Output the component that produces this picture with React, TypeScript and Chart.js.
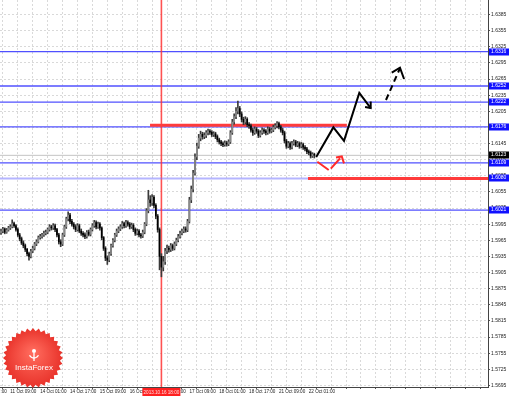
import React, { useEffect, useRef } from 'react';
import { Chart, registerables } from 'chart.js';
Chart.register(...registerables);

// ---- hourly candles (H1) ----
const opens = [
1.5979,1.5982,1.5986,1.5980,1.5984,1.5988,1.5990,1.5996,1.5992,1.5985,
1.5975,1.5968,1.5960,1.5955,1.5948,1.5940,1.5935,1.5945,1.5950,1.5958,
1.5962,1.5970,1.5972,1.5975,1.5978,1.5980,1.5985,1.5990,1.5988,1.5992,
1.5985,1.5975,1.5962,1.5958,1.5975,1.5990,1.6005,1.6012,1.6000,1.5995,
1.5990,1.5985,1.5992,1.5982,1.5978,1.5975,1.5972,1.5980,1.5976,1.5985,
1.5992,1.5998,1.5990,1.5995,1.5988,1.5970,1.5950,1.5932,1.5928,1.5940,
1.5955,1.5965,1.5975,1.5982,1.5986,1.5990,1.5996,1.5992,1.5998,1.5995,
1.5990,1.5993,1.5985,1.5978,1.5982,1.5975,1.5973,1.5980,1.5995,1.6020,
1.6040,1.6035,1.6045,1.6030,1.6010,1.5985,1.5935,1.5915,1.5925,1.5945,
1.5950,1.5948,1.5955,1.5950,1.5958,1.5965,1.5972,1.5978,1.5982,1.5986,
1.5984,1.6000,1.6040,1.6060,1.6090,1.6120,1.6140,1.6155,1.6162,1.6158,
1.6160,1.6165,1.6168,1.6166,1.6162,1.6163,1.6158,1.6152,1.6148,1.6145,
1.6143,1.6146,1.6144,1.6148,1.6165,1.6185,1.6195,1.6205,1.6210,1.6200,
1.6190,1.6185,1.6190,1.6180,1.6178,1.6170,1.6165,1.6172,1.6168,1.6160,
1.6165,1.6170,1.6168,1.6165,1.6172,1.6168,1.6170,1.6175,1.6178,1.6182,
1.6176,1.6170,1.6165,1.6150,1.6140,1.6145,1.6138,1.6145,1.6148,1.6142,
1.6145,1.6140,1.6143,1.6138,1.6135,1.6130,1.6128,1.6122,1.6125
];
const highs = [
1.5986,1.5989,1.5988,1.5987,1.5991,1.5994,1.6003,1.5999,1.5994,1.5988,
1.5978,1.5971,1.5964,1.5958,1.5950,1.5943,1.5948,1.5954,1.5961,1.5966,
1.5973,1.5976,1.5978,1.5982,1.5984,1.5988,1.5994,1.5993,1.5996,1.5995,
1.5987,1.5978,1.5966,1.5978,1.5993,1.6008,1.6018,1.6015,1.6004,1.5998,
1.5994,1.5996,1.5995,1.5986,1.5981,1.5979,1.5983,1.5984,1.5988,1.5996,
1.6002,1.6001,1.5999,1.5998,1.5990,1.5972,1.5953,1.5936,1.5943,1.5958,
1.5968,1.5978,1.5986,1.5990,1.5994,1.6000,1.5999,1.6002,1.6001,1.5998,
1.5997,1.5996,1.5988,1.5986,1.5985,1.5978,1.5984,1.5998,1.6024,1.6058,
1.6048,1.6050,1.6048,1.6033,1.6013,1.5988,1.5940,1.5935,1.5950,1.5956,
1.5954,1.5959,1.5958,1.5962,1.5969,1.5976,1.5982,1.5986,1.5990,1.5990,
1.6004,1.6045,1.6066,1.6095,1.6126,1.6146,1.6162,1.6168,1.6166,1.6165,
1.6169,1.6172,1.6171,1.6169,1.6167,1.6166,1.6161,1.6155,1.6151,1.6148,
1.6150,1.6149,1.6152,1.6169,1.6190,1.6200,1.6212,1.6224,1.6214,1.6204,
1.6194,1.6195,1.6193,1.6184,1.6181,1.6174,1.6176,1.6175,1.6171,1.6169,
1.6174,1.6173,1.6171,1.6176,1.6175,1.6174,1.6179,1.6182,1.6186,1.6185,
1.6179,1.6174,1.6168,1.6153,1.6149,1.6148,1.6149,1.6152,1.6151,1.6149,
1.6148,1.6147,1.6146,1.6141,1.6138,1.6133,1.6131,1.6128,1.6127
];
const lows = [
1.5976,1.5979,1.5977,1.5978,1.5982,1.5985,1.5988,1.5989,1.5982,1.5972,
1.5964,1.5957,1.5951,1.5944,1.5936,1.5928,1.5932,1.5942,1.5947,1.5955,
1.5960,1.5967,1.5969,1.5972,1.5975,1.5977,1.5982,1.5984,1.5985,1.5981,
1.5971,1.5958,1.5953,1.5955,1.5972,1.5987,1.6001,1.5996,1.5991,1.5986,
1.5981,1.5982,1.5979,1.5974,1.5971,1.5968,1.5969,1.5973,1.5973,1.5982,
1.5989,1.5986,1.5987,1.5984,1.5966,1.5946,1.5927,1.5920,1.5925,1.5937,
1.5952,1.5962,1.5972,1.5979,1.5983,1.5987,1.5988,1.5989,1.5991,1.5986,
1.5987,1.5981,1.5974,1.5975,1.5971,1.5969,1.5970,1.5977,1.5992,1.6016,
1.6028,1.6030,1.6025,1.6005,1.5980,1.5910,1.5897,1.5908,1.5920,1.5940,
1.5943,1.5944,1.5946,1.5947,1.5955,1.5962,1.5969,1.5975,1.5979,1.5980,
1.5981,1.5997,1.6035,1.6055,1.6086,1.6115,1.6136,1.6150,1.6153,1.6154,
1.6156,1.6161,1.6162,1.6158,1.6158,1.6154,1.6148,1.6144,1.6141,1.6139,
1.6140,1.6140,1.6141,1.6145,1.6162,1.6181,1.6191,1.6200,1.6195,1.6185,
1.6180,1.6181,1.6176,1.6173,1.6166,1.6160,1.6162,1.6164,1.6156,1.6157,
1.6162,1.6164,1.6161,1.6162,1.6164,1.6165,1.6167,1.6172,1.6174,1.6172,
1.6166,1.6161,1.6146,1.6136,1.6137,1.6134,1.6135,1.6142,1.6139,1.6139,
1.6136,1.6137,1.6134,1.6131,1.6126,1.6124,1.6118,1.6119,1.6118
];
const closes = [
1.5982,1.5986,1.5980,1.5984,1.5988,1.5990,1.5996,1.5992,1.5985,1.5975,
1.5968,1.5960,1.5955,1.5948,1.5940,1.5935,1.5945,1.5950,1.5958,1.5962,
1.5970,1.5972,1.5975,1.5978,1.5980,1.5985,1.5990,1.5988,1.5992,1.5985,
1.5975,1.5962,1.5958,1.5975,1.5990,1.6005,1.6012,1.6000,1.5995,1.5990,
1.5985,1.5992,1.5982,1.5978,1.5975,1.5972,1.5980,1.5976,1.5985,1.5992,
1.5998,1.5990,1.5995,1.5988,1.5970,1.5950,1.5932,1.5928,1.5940,1.5955,
1.5965,1.5975,1.5982,1.5986,1.5990,1.5996,1.5992,1.5998,1.5995,1.5990,
1.5993,1.5985,1.5978,1.5982,1.5975,1.5973,1.5980,1.5995,1.6020,1.6040,
1.6035,1.6045,1.6030,1.6010,1.5985,1.5935,1.5915,1.5925,1.5945,1.5950,
1.5948,1.5955,1.5950,1.5958,1.5965,1.5972,1.5978,1.5982,1.5986,1.5984,
1.6000,1.6040,1.6060,1.6090,1.6120,1.6140,1.6155,1.6162,1.6158,1.6160,
1.6165,1.6168,1.6166,1.6162,1.6163,1.6158,1.6152,1.6148,1.6145,1.6143,
1.6146,1.6144,1.6148,1.6165,1.6185,1.6195,1.6205,1.6210,1.6200,1.6190,
1.6185,1.6190,1.6180,1.6178,1.6170,1.6165,1.6172,1.6168,1.6160,1.6165,
1.6170,1.6168,1.6165,1.6172,1.6168,1.6170,1.6175,1.6178,1.6182,1.6176,
1.6170,1.6165,1.6150,1.6140,1.6145,1.6138,1.6145,1.6148,1.6142,1.6145,
1.6140,1.6143,1.6138,1.6135,1.6130,1.6128,1.6122,1.6125,1.6123
];

// ---- axes ----
const priceTicks = [
1.6415,1.6385,1.6355,1.6325,1.6295,1.6265,1.6235,1.6205,1.6175,1.6145,1.6115,1.6085,1.6055,
1.6025,1.5995,1.5965,1.5935,1.5905,1.5875,1.5845,1.5815,1.5785,1.5755,1.5725,1.5695
];
const timeLabelBars = [-11, 5, 21, 37, 53, 69, 85, 101, 117, 133, 149, 165];
const timeLabels = ['10 Oct 17:00','11 Oct 09:00','14 Oct 01:00','14 Oct 17:00','15 Oct 09:00','16 Oct 01:00',
  '16 Oct 17:00','17 Oct 09:00','18 Oct 01:00','18 Oct 17:00','21 Oct 09:00','22 Oct 01:00'];
const X_MIN = -0.54;
const X_MAX = 261.1;
const Y_MIN = 1.5692;
const Y_MAX = 1.6412;

// ---- levels & annotations ----
const blueLevels = [1.6316, 1.6252, 1.6222, 1.6176, 1.6109, 1.6021];
const tagLevels = [1.6316, 1.6252, 1.6222, 1.6176, 1.6109, 1.6080, 1.6021];
const currentPrice = 1.6123;
const supportLevel = 1.6080;
const supportRedFrom = 164.6;
const resistanceLevel = 1.6179;
const resistanceFrom = 79.9;
const resistanceTo = 185.4;
const markerBar = 86;
const markerLabel = '2013.10.16 18:00';

const forecastSolid = [[169, 1.6120], [178.2, 1.6175], [183.9, 1.6150], [192.1, 1.6239], [198.2, 1.6211]];
const forecastSolidHead = [[195.2, 1.6213], [198.2, 1.6211], [198.2, 1.6223]];
const forecastDashed = [[206.4, 1.6226], [213.9, 1.6285]];
const forecastDashedHead = [[209.5, 1.6277], [213.9, 1.6286], [216.1, 1.6265]];
const forecastRed = [[169.6, 1.6111], [176.0, 1.6095], [182.7, 1.6121]];
const forecastRedHead = [[179.6, 1.6119], [182.7, 1.6121], [183.9, 1.6108]];

const FONT = 'Liberation Sans';

const pts = (a: number[][]) => a.map(([x, y]) => ({ x, y }));

function lineDs(data: any[], color: string, width: number, order: number, dash: number[] = []) {
  return {
    type: 'line' as const,
    data,
    borderColor: color,
    backgroundColor: color,
    borderWidth: width,
    borderDash: dash,
    pointRadius: 0,
    pointHoverRadius: 0,
    tension: 0,
    fill: false,
    order,
  };
}

const tagsPlugin = {
  id: 'tags',
  afterDraw(chart: any) {
    const { ctx } = chart;
    const y = chart.scales.y;
    const x = chart.scales.x;
    ctx.save();
    ctx.font = `5px "${FONT}"`;
    ctx.textBaseline = 'middle';
    ctx.textAlign = 'left';
    const drawTag = (v: number, bg: string) => {
      const py = y.getPixelForValue(v);
      ctx.fillStyle = bg;
      ctx.fillRect(489, Math.round(py) - 3.5, 20, 7);
      ctx.fillStyle = '#ffffff';
      ctx.fillText(v.toFixed(4), 491, Math.round(py));
    };
    tagLevels.forEach((v) => drawTag(v, '#1010ff'));
    drawTag(currentPrice, '#000000');
    // crosshair time label
    const px = x.getPixelForValue(markerBar);
    ctx.fillStyle = '#ff2020';
    ctx.fillRect(px - 19, 388, 38, 8);
    ctx.fillStyle = '#ffdede';
    ctx.textAlign = 'center';
    ctx.font = `4.6px "${FONT}"`;
    ctx.fillText(markerLabel, px, 392.3);
    ctx.restore();
  },
};

const logoPlugin = {
  id: 'logo',
  afterDraw(chart: any) {
    const { ctx } = chart;
    const cx = 33, cy = 358, R = 30, r = 27, n = 32;
    ctx.save();
    const g = ctx.createRadialGradient(cx, cy - 6, 2, cx, cy, R);
    g.addColorStop(0, '#ff6a5c');
    g.addColorStop(1, '#e8322a');
    ctx.fillStyle = g;
    ctx.beginPath();
    for (let i = 0; i < n * 2; i++) {
      const a = (Math.PI * i) / n;
      const rr = i % 2 === 0 ? R : r;
      const px = cx + rr * Math.cos(a);
      const py = cy + rr * Math.sin(a);
      if (i === 0) ctx.moveTo(px, py); else ctx.lineTo(px, py);
    }
    ctx.closePath();
    ctx.fill();
    // emblem
    ctx.strokeStyle = '#ffffff';
    ctx.fillStyle = '#ffffff';
    ctx.lineWidth = 1.3;
    ctx.beginPath();
    ctx.arc(cx + 1, cy - 7, 2, 0, Math.PI * 2);
    ctx.fill();
    ctx.beginPath();
    ctx.arc(cx + 1, cy - 5, 5, 0.15 * Math.PI, 0.85 * Math.PI);
    ctx.stroke();
    ctx.beginPath();
    ctx.moveTo(cx + 1, cy - 5);
    ctx.lineTo(cx + 1, cy + 3);
    ctx.stroke();
    ctx.font = `8px "${FONT}"`;
    ctx.textAlign = 'center';
    ctx.textBaseline = 'middle';
    ctx.fillText('InstaForex', cx + 1, cy + 10);
    ctx.restore();
  },
};

export default function App() {
  const ref = useRef<HTMLCanvasElement>(null);
  useEffect(() => {
    const canvas = ref.current!;
    const idx = closes.map((_, i) => i);
    const wickData = idx.map((i) => ({ x: i, y: [lows[i], highs[i]] }));
    const bodyData = idx.map((i) => ({ x: i, y: [opens[i], closes[i]] }));
    const bodyColors = idx.map((i) => (closes[i] > opens[i] ? '#8a8a8a' : '#000000'));
    const labelMap: Record<string, string> = {};
    timeLabelBars.forEach((b, k) => { labelMap[String(b)] = timeLabels[k]; });
    const gridBars: number[] = [];
    for (let b = -11; b <= 262; b += 8) gridBars.push(b);

    const datasets: any[] = [
      lineDs(pts(forecastSolid), '#000000', 2, 0),
      lineDs(pts(forecastSolidHead), '#000000', 2, 0),
      lineDs(pts(forecastDashed), '#000000', 2, 0, [6, 4]),
      lineDs(pts(forecastDashedHead), '#000000', 2, 0),
      lineDs(pts(forecastRed), '#ff2a2a', 2, 0, [14, 3]),
      lineDs(pts(forecastRedHead), '#ff2a2a', 2, 0),
      {
        type: 'bar', data: bodyData, backgroundColor: bodyColors, borderWidth: 0,
        barThickness: 1, grouped: false, order: 1,
      },
      {
        type: 'bar', data: wickData, backgroundColor: '#3a3a3a', borderWidth: 0,
        barThickness: 1, grouped: false, order: 2,
      },
      lineDs([{ x: resistanceFrom, y: resistanceLevel }, { x: resistanceTo, y: resistanceLevel }], '#ff3b3b', 3, 3),
      lineDs([{ x: supportRedFrom, y: supportLevel }, { x: X_MAX + 1, y: supportLevel }], '#ff3b3b', 3, 3),
      lineDs([{ x: X_MIN - 1, y: supportLevel }, { x: supportRedFrom, y: supportLevel }], 'rgba(120,120,255,0.55)', 2, 4),
      lineDs([{ x: markerBar, y: Y_MIN - 0.01 }, { x: markerBar, y: Y_MAX + 0.01 }], 'rgba(255,50,50,0.85)', 1.6, 4),
      lineDs([{ x: X_MIN - 1, y: currentPrice }, { x: X_MAX + 1, y: currentPrice }], '#c4c4c4', 1, 5),
      ...blueLevels.map((v) => lineDs([{ x: X_MIN - 1, y: v }, { x: X_MAX + 1, y: v }], 'rgb(80,80,255)', 1.3, 5)),
    ];

    const chart = new Chart(canvas, {
      type: 'bar',
      data: { datasets },
      options: {
        responsive: false,
        animation: false,
        devicePixelRatio: 1,
        layout: { padding: 0 },
        plugins: { legend: { display: false }, tooltip: { enabled: false } },
        scales: {
          x: {
            type: 'linear',
            min: X_MIN,
            max: X_MAX,
            offset: false,
            afterBuildTicks: (s: any) => { s.ticks = gridBars.map((v) => ({ value: v })); },
            afterFit: (s: any) => { s.height = 9; s.paddingLeft = 0; s.paddingRight = 0; },
            ticks: {
              autoSkip: false, maxRotation: 0, minRotation: 0, align: 'start', padding: 0,
              font: { family: FONT, size: 4.6 }, color: '#222',
              callback: (v: any) => labelMap[String(v)] || '',
            },
            grid: { color: '#d9d9d9', tickLength: 2, tickColor: '#555', drawTicks: true },
            border: { display: true, color: '#444', width: 1, dash: [2, 2] },
          },
          y: {
            type: 'linear',
            position: 'right',
            min: Y_MIN,
            max: Y_MAX,
            afterBuildTicks: (s: any) => { s.ticks = priceTicks.map((v) => ({ value: v })); },
            afterFit: (s: any) => { s.width = 22; s.paddingTop = 0; s.paddingBottom = 0; },
            ticks: {
              autoSkip: false, padding: 1,
              font: { family: FONT, size: 5 }, color: '#222',
              callback: (v: any) => Number(v).toFixed(4),
            },
            grid: { color: '#d9d9d9', tickLength: 2, tickColor: '#555', drawTicks: true },
            border: { display: true, color: '#444', width: 1, dash: [2, 2] },
          },
        },
      } as any,
      plugins: [tagsPlugin, logoPlugin],
    } as any);
    return () => chart.destroy();
  }, []);
  return (
    <div style={{ position: 'fixed', left: 0, top: 0, width: 510, height: 396, background: '#fff' }}>
      <canvas ref={ref} width={510} height={396} style={{ display: 'block', width: 510, height: 396 }} />
    </div>
  );
}
